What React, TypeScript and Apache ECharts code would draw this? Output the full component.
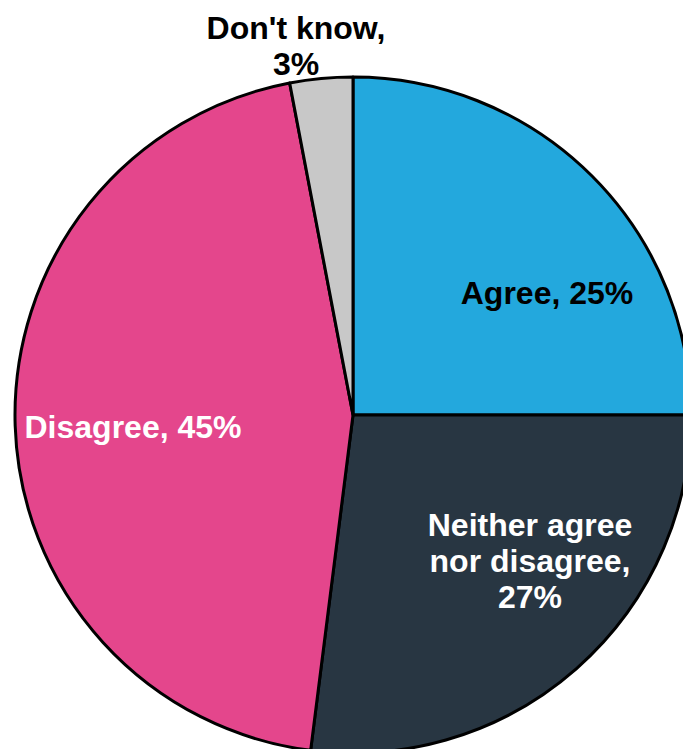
import React, { useEffect, useRef } from "react";
import * as echarts from "echarts";

const categories = ["Agree", "Neither agree\nnor disagree", "Disagree", "Don't know"];
const values = [25, 27, 45, 3];
const colors = ["#23A8DD", "#283642", "#E4468C", "#C8C8C8"];
const labelColors = ["#000000", "#FFFFFF", "#FFFFFF", "#000000"];
const wrapValue = [false, true, false, true];
const labelCenters: [number, number][] = [
  [547, 293],
  [530, 561],
  [133, 427],
  [296, 46],
];

export default function App() {
  const ref = useRef<HTMLDivElement>(null);
  useEffect(() => {
    if (!ref.current) return;
    const chart = echarts.init(ref.current, undefined, { renderer: "svg" });
    chart.setOption({
      animation: false,
      backgroundColor: "#ffffff",
      series: [
        {
          type: "pie",
          center: [353, 415],
          radius: 338,
          startAngle: 90,
          clockwise: true,
          silent: true,
          data: categories.map((name, i) => ({
            name,
            value: values[i],
            itemStyle: { color: colors[i] },
            label: { color: labelColors[i] },
          })),
          itemStyle: { borderColor: "#000000", borderWidth: 3 },
          label: {
            show: true,
            position: "inside",
            formatter: (p: any) =>
              wrapValue[p.dataIndex] ? `${p.name},\n${p.value}%` : `${p.name}, ${p.value}%`,
            fontFamily: "'Liberation Sans', Arial, sans-serif",
            fontWeight: "bold",
            fontSize: 32,
            lineHeight: 36,
            align: "center",
          },
          labelLine: { show: false },
          labelLayout: (params: any) => {
            const c = labelCenters[params.dataIndex];
            return {
              x: c[0],
              y: c[1],
              align: "center",
              verticalAlign: "middle",
            };
          },
        },
      ],
    });
    return () => chart.dispose();
  }, []);
  return (
    <div
      ref={ref}
      style={{ position: "absolute", left: 0, top: 0, width: 683, height: 749 }}
    />
  );
}
